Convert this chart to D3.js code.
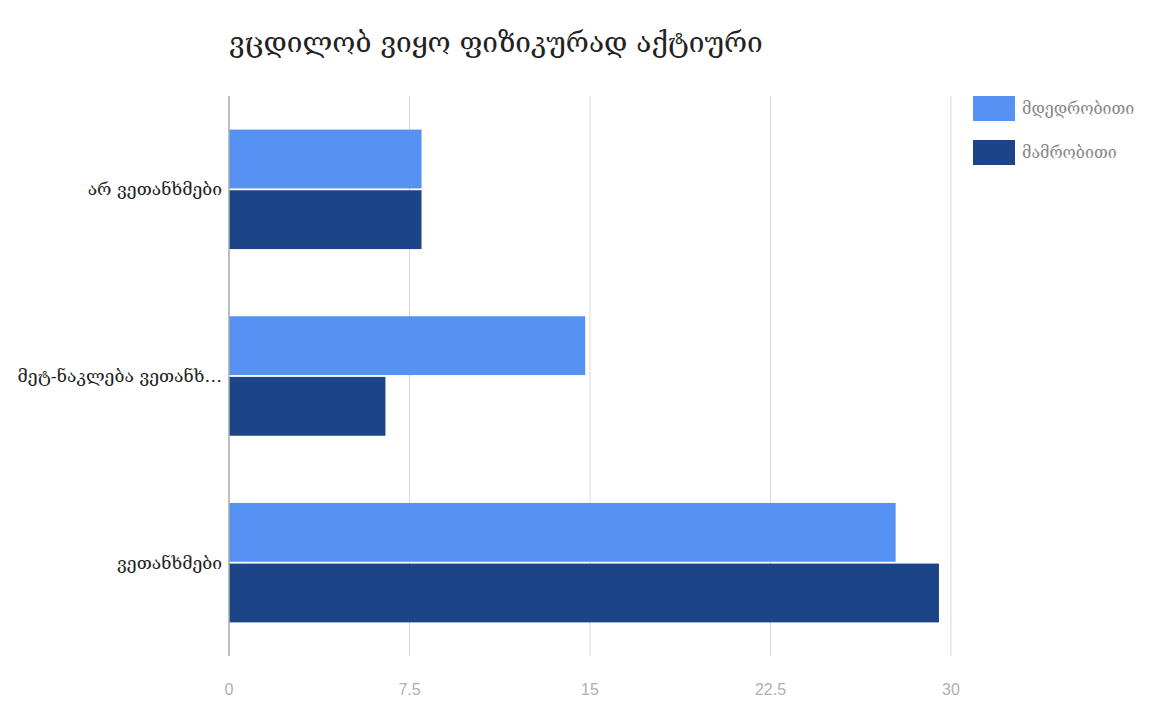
<!DOCTYPE html>
<html><head><meta charset="utf-8">
<script src="https://cdn.jsdelivr.net/npm/d3@7"></script>
<style>body{margin:0;background:#fff;}svg{display:block;}</style>
</head><body>
<svg id="c" width="1152" height="701"></svg>
<script>
const title = "ვცდილობ ვიყო ფიზიკურად აქტიური";
const categories = ["არ ვეთანხმები", "მეტ-ნაკლება ვეთანხ…", "ვეთანხმები"];
const seriesNames = ["მდედრობითი", "მამრობითი"];
const female = [8, 14.8, 27.7];
const male = [8, 6.5, 29.5];
const ticks = [0, 7.5, 15, 22.5, 30];
const tickLabels = ["0", "7.5", "15", "22.5", "30"];
const colors = ["#5692f4", "#1c4587"];

const svg = d3.select("#c");
const font = "'DejaVu Serif', serif";
const m = {left: 229, right: 951, top: 96, bottom: 656};
const x = d3.scaleLinear().domain([0, 30]).range([m.left, m.right]);
const y = d3.scaleBand().domain(categories).range([m.top, m.bottom]).paddingInner(0.36).paddingOuter(0.18);
const ys = d3.scaleBand().domain([0, 1]).range([0, y.bandwidth()]).paddingInner(0.03);

// gridlines
svg.append("g").selectAll("line").data(ticks.slice(1)).join("line")
  .attr("x1", d => x(d)).attr("x2", d => x(d))
  .attr("y1", m.top).attr("y2", m.bottom)
  .attr("stroke", "#d9d9d9").attr("stroke-width", 1);

// bars
const data = [female, male];
data.forEach((vals, si) => {
  svg.append("g").selectAll("rect").data(vals).join("rect")
    .attr("x", x(0))
    .attr("y", (d, i) => y(categories[i]) + ys(si))
    .attr("width", d => x(d) - x(0))
    .attr("height", ys.bandwidth())
    .attr("fill", colors[si]);
});

// zero axis line
svg.append("line").attr("x1", x(0)).attr("x2", x(0)).attr("y1", m.top).attr("y2", m.bottom)
  .attr("stroke", "#aaaaaa").attr("stroke-width", 1.5);

// x tick labels
svg.append("g").selectAll("text").data(ticks).join("text")
  .attr("x", d => x(d)).attr("y", 695)
  .attr("text-anchor", "middle")
  .attr("font-family", "Arial, 'Liberation Sans', sans-serif")
  .attr("font-size", 16).attr("fill", "#b0b0b0")
  .text((d, i) => tickLabels[i]);

// category labels
svg.append("g").selectAll("text").data(categories).join("text")
  .attr("x", 222).attr("y", d => y(d) + y.bandwidth() / 2 + 6)
  .attr("text-anchor", "end")
  .attr("font-family", font).attr("font-size", 17.5).attr("fill", "#222")
  .text(d => d);

// title
svg.append("text").attr("x", 229).attr("y", 52)
  .attr("font-family", font).attr("font-size", 28).attr("fill", "#222")
  .text(title);

// legend
const lg = svg.append("g");
seriesNames.forEach((n, i) => {
  lg.append("rect").attr("x", 973).attr("y", 96 + i * 44).attr("width", 42).attr("height", 25).attr("fill", colors[i]);
  lg.append("text").attr("x", 1022).attr("y", 114 + i * 44)
    .attr("font-family", font).attr("font-size", 16).attr("fill", "#888").text(n);
});
</script>
</body></html>
